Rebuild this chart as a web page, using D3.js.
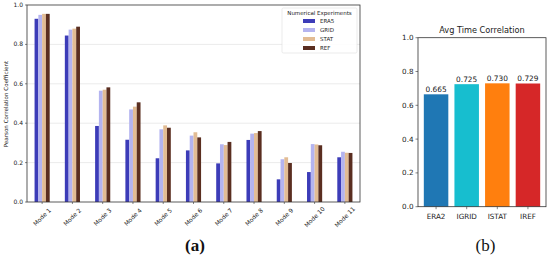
<!DOCTYPE html>
<html>
<head>
<meta charset="utf-8">
<script src="https://d3js.org/d3.v7.min.js"></script>
<style>
  body { margin: 0; background: #fff; }
  svg { display: block; font-family: "DejaVu Sans", sans-serif; }
  .lbl { font-family: "Liberation Serif", serif; font-size: 17px; font-weight: bold; fill: #111; }
</style>
</head>
<body>
<div id="chart"></div>
<script>
// ---- data (a) ----
var modes = ["Mode 1", "Mode 2", "Mode 3", "Mode 4", "Mode 5", "Mode 6", "Mode 7", "Mode 8", "Mode 9", "Mode 10", "Mode 11"];
var experiments = ["ERA5", "GRID", "STAT", "REF"];
var era5 = [0.93, 0.845, 0.386, 0.316, 0.222, 0.262, 0.196, 0.315, 0.115, 0.152, 0.227];
var grid = [0.95, 0.875, 0.565, 0.47, 0.369, 0.337, 0.293, 0.347, 0.217, 0.294, 0.255];
var stat = [0.955, 0.88, 0.57, 0.484, 0.389, 0.354, 0.289, 0.35, 0.227, 0.292, 0.25];
var ref = [0.955, 0.89, 0.582, 0.506, 0.377, 0.328, 0.305, 0.36, 0.198, 0.288, 0.249];
var yTicksA = [0, 0.2, 0.4, 0.6, 0.8, 1.0];

// ---- data (b) ----
var avgNames = ["ERA2", "IGRID", "ISTAT", "IREF"];
var avgValues = [0.665, 0.725, 0.730, 0.729];
var yTicksB = [0, 0.2, 0.4, 0.6, 0.8, 1.0];

var expColors = ["#3c3cb8", "#b4b4f0", "#e2bc94", "#5a2e20"];
var avgColors = ["#1f77b4", "#17becf", "#ff7f0e", "#d62728"];

var svg = d3.select("#chart").append("svg").attr("width", 550).attr("height", 258);

// ===== panel (a) =====
var series = [era5, grid, stat, ref];
var xa = d3.scaleLinear().domain([-0.5, modes.length - 0.5]).range([27, 360]);
var ya = d3.scaleLinear().domain([0, 1.0]).range([202, 5]);
var ga = svg.append("g");

ga.selectAll(".grid").data(yTicksA.slice(1, -1)).enter().append("line")
  .attr("x1", xa.range()[0]).attr("x2", xa.range()[1])
  .attr("y1", function(d) { return ya(d); }).attr("y2", function(d) { return ya(d); })
  .attr("stroke", "#e2e2e2").attr("stroke-width", 0.7);

var bw = 0.125;
series.forEach(function(vals, s) {
  ga.selectAll(".bar" + s).data(vals).enter().append("rect")
    .attr("x", function(d, i) { return xa(i + (s - 2) * bw); })
    .attr("width", xa(bw) - xa(0))
    .attr("y", function(d) { return ya(d); })
    .attr("height", function(d) { return ya(0) - ya(d); })
    .attr("fill", expColors[s]);
});

ga.append("rect").attr("x", 27).attr("y", ya(1.0)).attr("width", 333).attr("height", ya(0) - ya(1.0))
  .attr("fill", "none").attr("stroke", "#333").attr("stroke-width", 0.8);

ga.selectAll(".yt").data(yTicksA).enter().append("g").each(function(d) {
  var g = d3.select(this);
  g.append("line").attr("x1", 25).attr("x2", 27).attr("y1", ya(d)).attr("y2", ya(d)).attr("stroke", "#333").attr("stroke-width", 0.6);
  g.append("text").attr("x", 23).attr("y", ya(d) + 2).attr("text-anchor", "end")
    .attr("font-size", "6px").attr("fill", "#222").text(d.toFixed(1));
});

ga.selectAll(".xt").data(modes).enter().append("g").each(function(d, i) {
  var g = d3.select(this);
  g.append("line").attr("x1", xa(i)).attr("x2", xa(i)).attr("y1", 202).attr("y2", 204).attr("stroke", "#333").attr("stroke-width", 0.6);
  g.append("text").attr("transform", "translate(" + xa(i) + ",217) rotate(-45)")
    .attr("text-anchor", "middle").attr("dy", "0.35em")
    .attr("font-size", "6px").attr("fill", "#222").text(d);
});

ga.append("text").attr("transform", "translate(8,104) rotate(-90)")
  .attr("text-anchor", "middle").attr("font-size", "5.6px").attr("fill", "#222")
  .text("Pearson Correlation Coefficient");

// legend
var lg = ga.append("g").attr("transform", "translate(282,8)");
lg.append("rect").attr("width", 75).attr("height", 45).attr("fill", "#fff").attr("fill-opacity", 0.85)
  .attr("stroke", "#ddd").attr("stroke-width", 0.6).attr("rx", 1.5);
lg.append("text").attr("x", 37.5).attr("y", 6.5).attr("text-anchor", "middle")
  .attr("font-size", "5.5px").attr("fill", "#222").text("Numerical Experiments");
experiments.forEach(function(name, k) {
  lg.append("rect").attr("x", 21).attr("y", 11 + k * 9).attr("width", 12).attr("height", 4).attr("fill", expColors[k]);
  lg.append("text").attr("x", 38).attr("y", 15 + k * 9).attr("font-size", "5.5px").attr("fill", "#222").text(name);
});

svg.append("text").attr("class", "lbl").attr("x", 195).attr("y", 251).attr("text-anchor", "middle").text("(a)");

// ===== panel (b) =====
var xb = d3.scaleLinear().domain([-0.59, avgNames.length - 1 + 0.59]).range([418, 546]);
var yb = d3.scaleLinear().domain([0, 1.0]).range([206.7, 37.7]);
var gb = svg.append("g");

gb.selectAll(".avg").data(avgValues).enter().append("rect")
  .attr("x", function(d, i) { return xb(i - 0.4); })
  .attr("width", xb(0.8) - xb(0))
  .attr("y", function(d) { return yb(d); })
  .attr("height", function(d) { return yb(0) - yb(d); })
  .attr("fill", function(d, i) { return avgColors[i]; });

gb.selectAll(".avgt").data(avgValues).enter().append("text")
  .attr("x", function(d, i) { return xb(i); })
  .attr("y", function(d) { return yb(d) - 2; })
  .attr("text-anchor", "middle").attr("font-size", "7.4px").attr("fill", "#222")
  .text(function(d) { return d.toFixed(3); });

gb.append("rect").attr("x", 418).attr("y", yb(1.0)).attr("width", 128).attr("height", yb(0) - yb(1.0))
  .attr("fill", "none").attr("stroke", "#333").attr("stroke-width", 0.8);

gb.selectAll(".ybt").data(yTicksB).enter().append("g").each(function(d) {
  var g = d3.select(this);
  g.append("line").attr("x1", 415.5).attr("x2", 418).attr("y1", yb(d)).attr("y2", yb(d)).attr("stroke", "#333").attr("stroke-width", 0.6);
  g.append("text").attr("x", 413.5).attr("y", yb(d) + 2.5).attr("text-anchor", "end")
    .attr("font-size", "7.2px").attr("fill", "#222").text(d.toFixed(1));
});

gb.selectAll(".xbt").data(avgNames).enter().append("g").each(function(d, i) {
  var g = d3.select(this);
  g.append("line").attr("x1", xb(i)).attr("x2", xb(i)).attr("y1", yb(0)).attr("y2", yb(0) + 2.5).attr("stroke", "#333").attr("stroke-width", 0.6);
  g.append("text").attr("x", xb(i)).attr("y", 218.5).attr("text-anchor", "middle")
    .attr("font-size", "7.2px").attr("fill", "#222").text(d);
});

gb.append("text").attr("x", 482).attr("y", 32.5).attr("text-anchor", "middle")
  .attr("font-size", "8.2px").attr("fill", "#222").text("Avg Time Correlation");

svg.append("text").attr("class", "lbl").attr("x", 485.5).attr("y", 251).attr("text-anchor", "middle")
  .style("font-weight", "normal").text("(b)");
</script>
</body>
</html>
